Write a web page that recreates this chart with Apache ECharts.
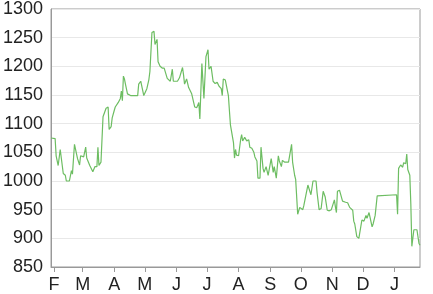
<!DOCTYPE html>
<html>
<head>
<meta charset="utf-8">
<script src="https://cdn.jsdelivr.net/npm/echarts@6/dist/echarts.min.js"></script>
<style>
html,body{margin:0;padding:0;background:#fff;}
#chart{width:433px;height:294px;}
</style>
</head>
<body>
<div id="chart"></div>
<script>
const dates = [
'2018-01-29','2018-02-02','2018-02-03','2018-02-05','2018-02-07','2018-02-08','2018-02-10','2018-02-12','2018-02-13','2018-02-16',
'2018-02-18','2018-02-19','2018-02-21','2018-02-22','2018-02-24','2018-02-26','2018-02-27','2018-03-02','2018-03-04','2018-03-05',
'2018-03-08','2018-03-09','2018-03-11','2018-03-13','2018-03-15','2018-03-16','2018-03-17','2018-03-19','2018-03-20','2018-03-21',
'2018-03-22','2018-03-24','2018-03-26','2018-03-27','2018-03-29','2018-03-30','2018-04-01','2018-04-02','2018-04-05','2018-04-07',
'2018-04-08','2018-04-09','2018-04-10','2018-04-11','2018-04-12','2018-04-14','2018-04-15','2018-04-17','2018-04-19','2018-04-21',
'2018-04-24','2018-04-25','2018-04-27','2018-04-28','2018-04-30','2018-05-02','2018-05-03','2018-05-05','2018-05-06','2018-05-08',
'2018-05-10','2018-05-11','2018-05-13','2018-05-14','2018-05-16','2018-05-18','2018-05-20','2018-05-21','2018-05-23','2018-05-26',
'2018-05-28','2018-05-29','2018-06-02','2018-06-04','2018-06-07','2018-06-08','2018-06-09','2018-06-11','2018-06-13','2018-06-16',
'2018-06-19','2018-06-21','2018-06-23','2018-06-24','2018-06-26','2018-06-27','2018-06-28','2018-06-30','2018-07-02','2018-07-03',
'2018-07-05','2018-07-07','2018-07-09','2018-07-11','2018-07-13','2018-07-15','2018-07-16','2018-07-17','2018-07-19','2018-07-22',
'2018-07-23','2018-07-24','2018-07-25','2018-07-27','2018-07-28','2018-07-29','2018-07-30','2018-08-01','2018-08-03','2018-08-04',
'2018-08-05','2018-08-07','2018-08-09','2018-08-11','2018-08-12','2018-08-14','2018-08-16','2018-08-17','2018-08-19','2018-08-20',
'2018-08-22','2018-08-23','2018-08-25','2018-08-26','2018-08-28','2018-08-30','2018-08-31','2018-09-02','2018-09-04','2018-09-05',
'2018-09-07','2018-09-09','2018-09-10','2018-09-12','2018-09-13','2018-09-15','2018-09-19','2018-09-20','2018-09-22','2018-09-23',
'2018-09-25','2018-09-26','2018-09-28','2018-09-30','2018-10-01','2018-10-03','2018-10-04','2018-10-06','2018-10-08','2018-10-09',
'2018-10-11','2018-10-13','2018-10-14','2018-10-16','2018-10-17','2018-10-19','2018-10-21','2018-10-23','2018-10-25','2018-10-27',
'2018-10-29','2018-10-31','2018-11-03','2018-11-04','2018-11-05','2018-11-06','2018-11-08','2018-11-09','2018-11-11','2018-11-12',
'2018-11-14','2018-11-16','2018-11-18','2018-11-21','2018-11-22','2018-11-23','2018-11-25','2018-11-27','2018-11-28','2018-11-30',
'2018-12-02','2018-12-04','2018-12-05','2018-12-07','2018-12-08','2018-12-10','2018-12-11','2018-12-13','2018-12-15','2018-12-16',
'2019-01-03','2019-01-04','2019-01-05','2019-01-06','2019-01-07','2019-01-09','2019-01-10','2019-01-12','2019-01-13','2019-01-14',
'2019-01-16','2019-01-17','2019-01-18','2019-01-20','2019-01-21','2019-01-23','2019-01-25','2019-01-26'
];
const values = [
1075,1074,1044,1027,1055,1052,1013,1010,1000,1000,
1018,1012,1064,1064,1039,1028,1044,1042,1059,1040,
1027,1028,1016,1025,1025,1059,1027,1033,1030,1112,
1112,1127,1129,1090,1095,1110,1123,1129,1137,1144,
1157,1140,1183,1178,1169,1152,1154,1149,1149,1149,
1149,1169,1174,1176,1149,1157,1161,1177,1191,1259,
1261,1238,1247,1208,1200,1197,1197,1195,1179,1174,
1195,1174,1174,1180,1198,1185,1169,1178,1163,1152,
1129,1128,1137,1108,1205,1207,1144,1217,1229,1195,
1200,1174,1170,1172,1165,1161,1149,1178,1176,1149,
1123,1098,1100,1067,1040,1055,1045,1044,1072,1081,
1070,1076,1070,1072,1059,1057,1050,1042,1035,1005,
1005,1059,1022,1015,1025,1010,1012,1039,1015,1025,
1005,1044,1035,1025,1036,1033,1033,1035,1064,1033,
1010,1003,942,954,952,950,957,975,993,990,
976,1000,1002,1000,980,950,952,982,972,949,
948,950,967,955,945,982,984,982,965,966,
963,962,954,949,930,925,903,900,900,932,
930,940,935,945,948,920,925,940,974,976,
976,942,1022,1020,1028,1024,1032,1030,1047,1020,
1010,960,886,915,917,915,891,888
];
const monthTicks = ['2018-02-01','2018-03-01','2018-04-01','2018-05-01','2018-06-01','2018-07-01','2018-08-01','2018-09-01','2018-10-01','2018-11-01','2018-12-01','2019-01-01'];
const monthLabels = ['F','M','A','M','J','J','A','S','O','N','D','J'];
const yTicks = [850, 900, 950, 1000, 1050, 1100, 1150, 1200, 1250, 1300];
const xMin = '2018-01-29';
const xMax = '2019-01-26';

function parseDay(s){ const p = s.split('-'); return Date.UTC(+p[0], +p[1]-1, +p[2]); }
const tickTs = monthTicks.map(parseDay);
const labelMap = {};
tickTs.forEach((t,i)=>{ labelMap[t] = monthLabels[i]; });

const chart = echarts.init(document.getElementById('chart'), null, {renderer:'canvas'});
const font = 'Liberation Sans, Arial, sans-serif';
chart.setOption({
  animation: false,
  backgroundColor: '#fff',
  grid: { left: 48, right: 13, top: 6, bottom: 23, show: true, borderColor: '#999', borderWidth: 1, backgroundColor: 'transparent' },
  xAxis: {
    type: 'value',
    min: parseDay(xMin), max: parseDay(xMax),
    axisLine: { show: true, lineStyle: { color: '#999', width: 1 } },
    axisTick: { show: true, length: 5, lineStyle: { color: '#999' }, customValues: tickTs },
    axisLabel: { customValues: tickTs, formatter: v => labelMap[v] || '', color: '#222', fontSize: 18, fontFamily: font, margin: 9, hideOverlap: false },
    splitLine: { show: false }
  },
  yAxis: {
    type: 'value',
    min: yTicks[0], max: yTicks[yTicks.length-1], interval: 50,
    axisLine: { show: true, lineStyle: { color: '#999', width: 1 } },
    axisTick: { show: false },
    axisLabel: { color: '#222', fontSize: 18, fontFamily: font, margin: 8, formatter: v => String(v) },
    splitLine: { show: true, lineStyle: { color: '#e8e8e8', width: 1 } }
  },
  series: [{
    type: 'line',
    data: dates.map((d,i)=>[parseDay(d), values[i]]),
    showSymbol: false,
    lineStyle: { color: '#6dbd62', width: 1.2 },
    itemStyle: { color: '#6dbd62' }
  }]
});
</script>
</body>
</html>
